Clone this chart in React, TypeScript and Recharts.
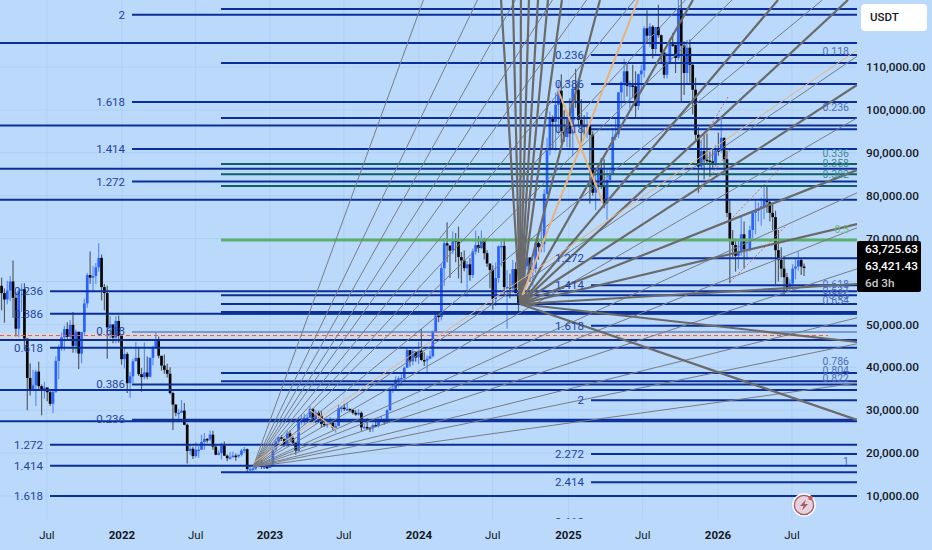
import { Bar, CartesianGrid, ComposedChart, ReferenceArea, ReferenceDot, ReferenceLine, XAxis, YAxis } from 'recharts'

// weekly candles in thousands of USDT, first bar is the week of 8 Mar 2021
const firstOpen = 51.2
const closes = [
  59.0,57.3,55.8,57.9,60.0,56.2,49.0,57.8,58.2,46.7,37.5,34.6,35.8,39.0,35.6,34.7,35.3,34.2,31.5,34.3,41.5,44.6,47.0,48.9,47.1,49.9,45.0,48.3,43.2,48.2,54.9,61.5,60.9,61.3,63.3,65.5,58.7,57.3,49.3,50.0,46.9,50.8,47.3,
  41.9,43.1,36.3,37.9,41.4,42.2,38.4,37.7,38.8,37.8,42.2,44.5,46.4,42.7,40.4,39.4,38.5,34.0,31.3,29.4,29.4,29.9,26.6,20.5,21.0,19.3,20.8,20.8,22.6,23.3,23.2,24.3,21.5,19.6,20.0,21.8,19.4,18.8,19.0,19.4,19.3,19.6,20.6,20.9,16.3,16.3,16.4,17.1,17.1,16.8,16.8,16.6,
  16.9,20.9,22.7,23.7,23.3,21.9,24.6,23.5,22.4,20.5,27.9,28.0,28.2,28.3,30.3,27.6,29.4,28.7,26.8,26.7,26.8,27.1,25.9,26.3,30.5,30.6,30.3,30.3,30.1,29.4,29.0,29.4,26.0,26.1,25.9,25.8,26.5,26.3,27.9,27.9,27.2,30.0,34.5,35.0,37.1,37.4,37.5,39.9,44.0,41.4,43.7,42.3,
  43.9,41.7,41.6,42.0,42.6,48.3,52.1,51.7,63.1,68.9,68.4,67.2,69.6,69.3,65.7,64.9,63.1,64.0,61.5,67.0,68.5,67.8,69.6,66.6,64.2,62.7,55.9,60.8,68.2,68.3,58.7,58.7,58.4,62.9,57.3,54.8,59.1,63.6,65.6,62.8,62.9,69.0,68.0,68.7,80.4,90.6,98.0,97.2,101.2,104.5,95.1,93.7,98.3,
  94.5,105.0,104.7,97.7,96.5,96.1,96.3,94.2,80.7,82.6,86.1,82.4,78.2,83.7,85.2,93.7,94.3,104.1,106.4,109.0,105.6,105.7,105.5,100.9,108.3,109.2,119.0,117.3,119.4,114.2,119.3,117.4,113.4,108.2,111.1,115.3,115.2,112.1,123.5,115.0,108.6,114.5,110.5,104.7,94.2,86.8,90.4,88.4,88.2,88.0,87.7,90.6,
  90.5,93.5,88.5,76,69.5,68.5,66,67,71,67.5,67.5,72,76,76.5,77,77.5,79,78.5,76,75,67.3,65,63,61,58.5,59.5,63,63.5,65,63.5,63.4,
]
const highs = [
  61.8,60.9,58.4,60.2,61.3,64.9,57.5,58.4,59.5,59.6,46.7,40.9,39.4,39.4,41.3,36.0,36.6,35.1,34.6,34.5,42.6,45.3,48.1,49.7,50.5,51.0,52.9,48.8,47.3,48.3,56.0,62.0,67.0,63.7,64.3,69.0,66.3,59.4,59.0,51.9,49.5,51.9,52.1,
  47.5,44.4,43.5,38.9,42.0,45.9,44.8,39.8,45.8,42.5,42.3,45.0,48.2,47.2,42.4,43.0,40.8,40.0,34.3,31.4,30.2,32.4,31.7,26.9,21.9,21.5,22.5,21.6,24.3,24.7,23.5,25.2,25.2,22.0,20.6,22.4,22.7,19.7,20.2,20.4,19.9,19.7,21.0,21.4,21.1,17.2,16.8,17.3,17.4,18.4,17.1,16.9,
  17.0,21.3,23.4,23.8,24.2,23.4,25.2,25.2,23.9,22.6,28.4,28.9,29.2,28.8,31.0,30.5,30.0,29.9,29.8,27.6,27.4,28.4,27.3,27.0,31.4,31.0,31.5,31.8,30.4,30.3,30.0,30.2,29.7,26.8,28.1,26.1,26.9,27.5,28.0,28.6,28.0,30.2,35.2,35.9,37.9,37.9,38.4,40.2,44.7,44.0,44.3,43.8,
  45.9,48.9,43.5,42.8,43.9,48.6,52.8,53.0,64.0,70.1,73.8,68.1,71.7,71.3,72.8,66.9,67.2,64.7,65.5,67.7,71.9,70.6,71.9,70.2,67.3,63.4,63.8,64.4,68.4,69.4,70.0,62.7,61.8,65.0,64.5,59.8,60.6,64.1,66.5,65.6,64.5,69.4,69.5,73.6,81.5,93.5,99.6,98.7,104.0,106.5,108.3,99.9,99.0,
  102.7,106.4,109.6,106.4,102.5,98.8,99.5,96.5,95.0,85.3,87.4,88.8,88.5,86.1,86.5,95.8,97.9,104.1,106.7,111.9,110.7,106.8,110.5,109.0,108.5,110.5,119.5,123.2,120.2,119.8,119.3,124.5,117.6,113.5,113.4,116.7,117.9,113.4,125.7,126.2,116.0,116.3,116.4,111.0,107.5,96.0,93.0,94.2,94.5,90.3,90.6,91.8,
  94.7,97.9,93.5,90.5,79,72,70,69.5,75.4,74,70,73,76.5,79,78.5,79.5,82.5,82,79,78,76.5,72,68,66,62,60.5,64,65.5,67,65.5,64.2,
]
const lows = [
  49.3,53.3,50.4,54.7,55.4,51.5,47.2,47.0,52.9,43.9,30.0,33.4,34.8,31.0,34.8,28.8,32.7,32.1,31.0,29.3,34.0,37.3,43.8,43.9,46.4,46.5,43.4,43.4,39.6,40.9,47.3,53.9,59.5,57.8,59.4,62.3,55.6,53.3,42.0,46.7,45.6,45.6,45.7,
  40.6,39.7,34.0,32.9,36.3,41.7,38.0,34.3,37.2,37.2,37.6,40.5,44.4,42.1,39.2,38.5,37.6,33.7,25.4,28.6,28.0,29.3,26.5,17.6,19.6,18.6,18.9,18.9,20.7,20.7,22.4,22.7,20.8,19.5,19.5,18.5,19.3,18.1,18.5,19.1,18.2,18.9,19.2,20.0,15.6,15.8,15.4,16.0,16.7,16.3,16.3,16.3,
  16.5,17.3,20.4,22.3,22.8,21.4,21.5,22.8,21.9,19.6,20.4,26.6,26.6,27.2,28.2,27.1,26.9,27.7,25.9,26.1,25.9,26.6,25.4,24.8,26.3,29.5,29.8,29.9,29.5,29.0,28.7,28.7,25.2,25.8,25.4,24.9,24.9,26.0,26.0,27.2,26.6,26.9,29.8,34.0,34.5,35.5,35.7,36.9,39.9,40.2,40.5,41.3,
  40.8,41.5,40.3,38.5,41.9,42.3,48.0,50.5,50.9,59.0,64.5,60.8,66.4,64.5,60.7,59.6,62.4,56.5,60.2,60.8,66.3,66.7,67.6,65.1,63.4,58.4,53.5,54.3,59.7,63.5,57.1,49.0,56.1,57.8,57.2,52.5,54.6,57.5,62.7,59.9,58.9,62.0,65.1,66.8,66.8,80.2,89.4,90.8,90.5,94.2,92.2,92.5,91.3,
  91.2,89.2,100.5,96.2,91.2,94.1,93.4,78.2,80.0,76.6,81.1,81.6,77.1,74.4,83.0,85.1,92.9,93.4,100.7,102.1,103.1,100.4,102.7,98.2,100.0,105.1,107.5,115.7,114.7,112.0,112.6,116.8,110.7,107.3,107.3,110.6,114.7,108.6,111.5,102.0,103.5,106.0,106.3,98.9,93.0,80.6,86.0,83.8,87.6,84.4,86.5,86.8,
  89.3,90,86,75,59.6,65.7,62.3,63,66,63,65,67,70,71,74,73,74.5,76,74,72,59.3,60,61,57,57.6,57.8,58,60.5,62.5,61.5,61.3,
]

const firstWeek = 2021.174
const timeMin = 2021.182
const timeMax = 2026.953
const priceMin = 4638
const priceMax = 125618

const priceTicks = [10000, 20000, 30000, 40000, 50000, 60000, 70000, 80000, 90000, 100000, 110000]
const timeTicks = [2021.498, 2022.003, 2022.5, 2023.0, 2023.498, 2024.003, 2024.5, 2025.01, 2025.51, 2026.017, 2026.515]
const timeLabels = ['Jul', '2022', 'Jul', '2023', 'Jul', '2024', 'Jul', '2025', 'Jul', '2026', 'Jul']

// horizontal levels, grouped by the time they start from
const levelsFromEdge = [115590, 96390, 86300, 79040, 46360, 34710, 27400]
const levelsFromA = [57720, 52500, 44570, 21960, 17060, 10000]
const levelsFromB = [122190, 101840, 90890, 83290, 35990, 27800]
const levelsFromC = [123520, 110930, 98110, 56810, 54760, 38670, 36740, 15550]
const levelsFromD = [112800, 106040, 95480, 65410, 59110, 49700, 32310, 19790, 13190]
const tealLevels = [87390, 85010, 82260]
const startA = 2021.519
const startB = 2022.071
const startC = 2022.67
const startD = 2025.162
const thickLevel = 52730
const greenLevel = 69670
const paleLevel = 48230
const bandTop = 48000
const bandBottom = 46600
const bandMiddle = 47410
const bandEnd = 2026.757

// fan tools: [end time, end price]
const heavyFanOrigin = [2024.684, 54760]
const heavyFan = [
  [2024.556, priceMax], [2024.636, priceMax], [2024.69, priceMax], [2024.744, priceMax], [2024.805, priceMax],
  [2024.872, priceMax], [2024.966, priceMax], [2025.222, priceMax], [2025.848, priceMax], [2026.421, priceMax], [2026.892, priceMax],
  [timeMax, 105800], [timeMax, 85990], [timeMax, 73400], [timeMax, 59420], [timeMax, 45900], [timeMax, 27720],
]
const lightFanOrigin = [2022.886, 16760]
const lightFan = [
  [2024.033, priceMax], [2024.397, priceMax], [2024.652, priceMax], [2024.902, priceMax], [2025.132, priceMax],
  [2025.455, priceMax], [2025.797, priceMax], [2026.111, priceMax], [2026.72, priceMax],
  [timeMax, 112490], [timeMax, 98130], [timeMax, 80680], [timeMax, 72520], [timeMax, 62940], [timeMax, 51540], [timeMax, 45480], [timeMax, 36340],
]
// [t1, p1, t2, p2, strokeWidth]
const orangeLines = [
  [2022.886, 17690, timeMax, 113960, 1],
  [2024.7, 56850, 2025.478, priceMax, 2],
  [2024.939, 104640, 2025.242, 78300, 2],
  [2023.269, 30050, 2023.451, 25380, 1.2],
]
const dashedLines = [
  [2025.882, 80610, 2026.098, 90650],
  [2025.896, 92280, 2026.084, 103000],
  [2026.118, 75030, 2026.455, 87150],
  [2026.098, 59880, 2026.481, 73170],
]

// fib labels: [text, price], one list per column
const labelTimeA = 2021.471
const labelTimeB = 2022.024
const labelTimeD = 2025.114
const labelTimeR = 2026.899
const labelsA: [string, number][] = [['0.236', 57780], ['0.386', 52540], ['0.618', 44620], ['1.272', 22000], ['1.414', 17110], ['1.618', 10000]]
const labelsB: [string, number][] = [['2', 122240], ['1.618', 101840], ['1.414', 90890], ['1.272', 83310], ['0.618', 48460], ['0.386', 36110], ['0.236', 27950]]
const labelsD: [string, number][] = [['0.236', 112800], ['0.386', 106040], ['0.618', 95480], ['1.272', 65480], ['1.414', 59180], ['1.618', 49630], ['2', 32380], ['2.272', 19790], ['2.414', 13260]]
const cutLabel: [string, number] = ['2.618', 4050]
const labelsRight: [string, number, string][] = [
  ['0.118', 113730, '#4a6cb8'], ['0.236', 100680, '#4a6cb8'], ['0.336', 89950, '#3f8a92'], ['0.358', 87620, '#3f8a92'], ['0.382', 85060, '#3f8a92'],
  ['0.5', 72240, '#72b97c'], ['0.618', 59420, '#4a6cb8'], ['0.637', 58020, '#4a6cb8'], ['0.65', 56850, '#4a6cb8'], ['0.654', 55690, '#4a6cb8'],
  ['0.786', 41470, '#4a6cb8'], ['0.804', 39370, '#4a6cb8'], ['0.822', 37510, '#4a6cb8'], ['1', 18160, '#4a6cb8'],
]

const rows = closes.map((close, i) => ({
  time: firstWeek + i / 52,
  open: (i === 0 ? firstOpen : closes[i - 1]) * 1000,
  high: highs[i] * 1000,
  low: lows[i] * 1000,
  close: close * 1000,
}))

const BG = '#bbdafb'
const LEVEL = '#0a2f99'
const FONT = 'Roboto, sans-serif'

function Candle(props: any) {
  const { x, y, width, height, payload } = props
  const { open, close, high, low } = payload
  const perPrice = height / (high - low)
  const up = close >= open
  const color = up ? '#2962ff' : '#050505'
  const top = y + (high - Math.max(open, close)) * perPrice
  const bodyH = Math.max(Math.abs(close - open) * perPrice, 1.5)
  const mid = x + width / 2
  return (
    <g>
      <line x1={mid} x2={mid} y1={y} y2={y + height} stroke={up ? '#3d72f5' : '#333333'} strokeWidth={1.2} strokeOpacity={0.75} />
      <rect x={x} y={top} width={width} height={bodyH} fill={color} />
    </g>
  )
}

function TimeTick({ x, y, payload }: any) {
  const label = timeLabels[timeTicks.indexOf(payload.value)]
  return (
    <text x={x} y={y + 20} textAnchor="middle" fontFamily={FONT} fontSize={11.5} fontWeight={label === 'Jul' ? 400 : 700} fill="#131722">
      {label}
    </text>
  )
}

const level = (price: number, start: number, stroke = LEVEL, width = 2) => (
  <ReferenceLine
    key={`${price}-${start}`}
    segment={[{ x: start, y: price }, { x: timeMax, y: price }]}
    stroke={stroke}
    strokeWidth={width}
    ifOverflow="hidden"
  />
)

const fibLabel = (text: string, time: number, price: number, fill = '#23429f', size = 11.5) => (
  <ReferenceDot
    key={`${text}-${time}-${price}`}
    x={time}
    y={price}
    r={0}
    fill="none"
    stroke="none"
    ifOverflow="hidden"
    label={{ value: text, position: 'left', offset: 0, fill, fontSize: size, fontFamily: FONT }}
  />
)

// this label sits under the plot bottom in the reference, only its top shows
const clippedLabel = (text: string, time: number, price: number) => (
  <ReferenceDot
    key={text}
    x={time}
    y={price}
    r={0}
    fill="none"
    stroke="none"
    ifOverflow="visible"
    label={{
      content: ({ viewBox }: any) => (
        <text x={viewBox.x} y={viewBox.y + 4} textAnchor="end" fill="#23429f" fontSize={11.5} fontFamily={FONT} style={{ clipPath: 'inset(0 0 9.5px 0)' }}>
          {text}
        </text>
      ),
    }}
  />
)

export default function App() {
  return (
    <div style={{ position: 'absolute', left: 0, top: 0, width: 932, height: 550, background: BG, overflow: 'hidden' }}>
      <ComposedChart width={932} height={550} data={rows} margin={{ top: 0, right: 0, bottom: 0, left: 0 }}>
        <CartesianGrid stroke="#aecff2" strokeWidth={1} horizontalValues={priceTicks} verticalValues={timeTicks} />
        <XAxis
          dataKey="time"
          type="number"
          domain={[timeMin, timeMax]}
          allowDataOverflow
          ticks={timeTicks}
          interval={0}
          height={31}
          tickLine={false}
          axisLine={false}
          tickSize={0}
          tickMargin={0}
          tick={<TimeTick />}
        />
        <YAxis
          orientation="right"
          domain={[priceMin, priceMax]}
          allowDataOverflow
          ticks={priceTicks}
          interval={0}
          width={75}
          tickLine={false}
          axisLine={false}
          tickSize={0}
          tickMargin={9}
          tickFormatter={(v: number) => v.toLocaleString('en-US', { minimumFractionDigits: 2 })}
          tick={{ fill: '#131722', fontSize: 11.8, fontFamily: FONT, fontWeight: 500 }}
        />
        <Bar dataKey={(d: any) => [d.low, d.high]} barSize={2.7} shape={<Candle />} isAnimationActive={false} />

        <ReferenceArea x1={timeMin} x2={bandEnd} y1={bandBottom} y2={bandTop} fill="#d6d6db" fillOpacity={1} stroke="none" ifOverflow="hidden" />
        <ReferenceLine segment={[{ x: timeMin, y: bandMiddle }, { x: bandEnd, y: bandMiddle }]} stroke="#c4677c" strokeWidth={1} strokeDasharray="4 3" ifOverflow="hidden" />
        {levelsFromEdge.map((p) => level(p, timeMin))}
        {levelsFromA.map((p) => level(p, startA))}
        {levelsFromB.map((p) => level(p, startB))}
        {levelsFromC.map((p) => level(p, startC))}
        {levelsFromD.map((p) => level(p, startD))}
        {tealLevels.map((p) => level(p, startC, '#0e5f68'))}
        {level(thickLevel, startC, LEVEL, 3.6)}
        {level(greenLevel, startC, '#5cae6c', 2.8)}
        {level(paleLevel, startB, '#5f86c6', 1.6)}

        {lightFan.map(([t, p]) => (
          <ReferenceLine key={`l${t}${p}`} segment={[{ x: lightFanOrigin[0], y: lightFanOrigin[1] }, { x: t, y: p }]} stroke="#787c82" strokeWidth={1} ifOverflow="hidden" />
        ))}
        {heavyFan.map(([t, p]) => (
          <ReferenceLine key={`h${t}${p}`} segment={[{ x: heavyFanOrigin[0], y: heavyFanOrigin[1] }, { x: t, y: p }]} stroke="#6a6a6a" strokeWidth={2.2} ifOverflow="hidden" />
        ))}
        {orangeLines.map(([t1, p1, t2, p2, w]) => (
          <ReferenceLine key={`o${t1}`} segment={[{ x: t1, y: p1 }, { x: t2, y: p2 }]} stroke="#e8b27a" strokeWidth={w} ifOverflow="hidden" />
        ))}
        {dashedLines.map(([t1, p1, t2, p2]) => (
          <ReferenceLine key={`d${t1}`} segment={[{ x: t1, y: p1 }, { x: t2, y: p2 }]} stroke="#d4694f" strokeWidth={1} strokeDasharray="2 2" ifOverflow="hidden" />
        ))}

        {labelsA.map(([s, p]) => fibLabel(s, labelTimeA, p))}
        {labelsB.map(([s, p]) => fibLabel(s, labelTimeB, p))}
        {labelsD.map(([s, p]) => fibLabel(s, labelTimeD, p))}
        {clippedLabel(cutLabel[0], labelTimeD, cutLabel[1])}
        {labelsRight.map(([s, p, c]) => fibLabel(s, labelTimeR, p, c, 10.5))}
      </ComposedChart>

      <div style={{ position: 'absolute', left: 861, top: 4, width: 66, height: 27, background: '#fff', borderRadius: 4, font: `500 11.5px ${FONT}`, color: '#131722', lineHeight: '27px', textIndent: 9 }}>
        USDT
      </div>
      <div style={{ position: 'absolute', left: 857, top: 241, width: 64, height: 51, background: '#000', borderRadius: 2, font: `500 11.8px ${FONT}`, color: '#fff', paddingLeft: 8, boxSizing: 'border-box', lineHeight: '17px', paddingTop: 0 }}>
        <div>63,725.63</div>
        <div>63,421.43</div>
        <div style={{ color: '#c8c8c8' }}>6d 3h</div>
      </div>
      <svg width={26} height={26} style={{ position: 'absolute', left: 791, top: 492 }}>
        <circle cx={13} cy={13} r={11} fill="#e4d3dc" stroke="#fff" strokeWidth={1.5} />
        <circle cx={13} cy={13} r={9.6} fill="none" stroke="#a85a6a" strokeWidth={1.3} />
        <path d="M15 7.5 L9 14 L12.5 14 L11 18.5 L17 12 L13.5 12 Z" fill="#a85a6a" />
        <circle cx={19.5} cy={6} r={2.2} fill="#c25a5a" />
      </svg>
    </div>
  )
}
